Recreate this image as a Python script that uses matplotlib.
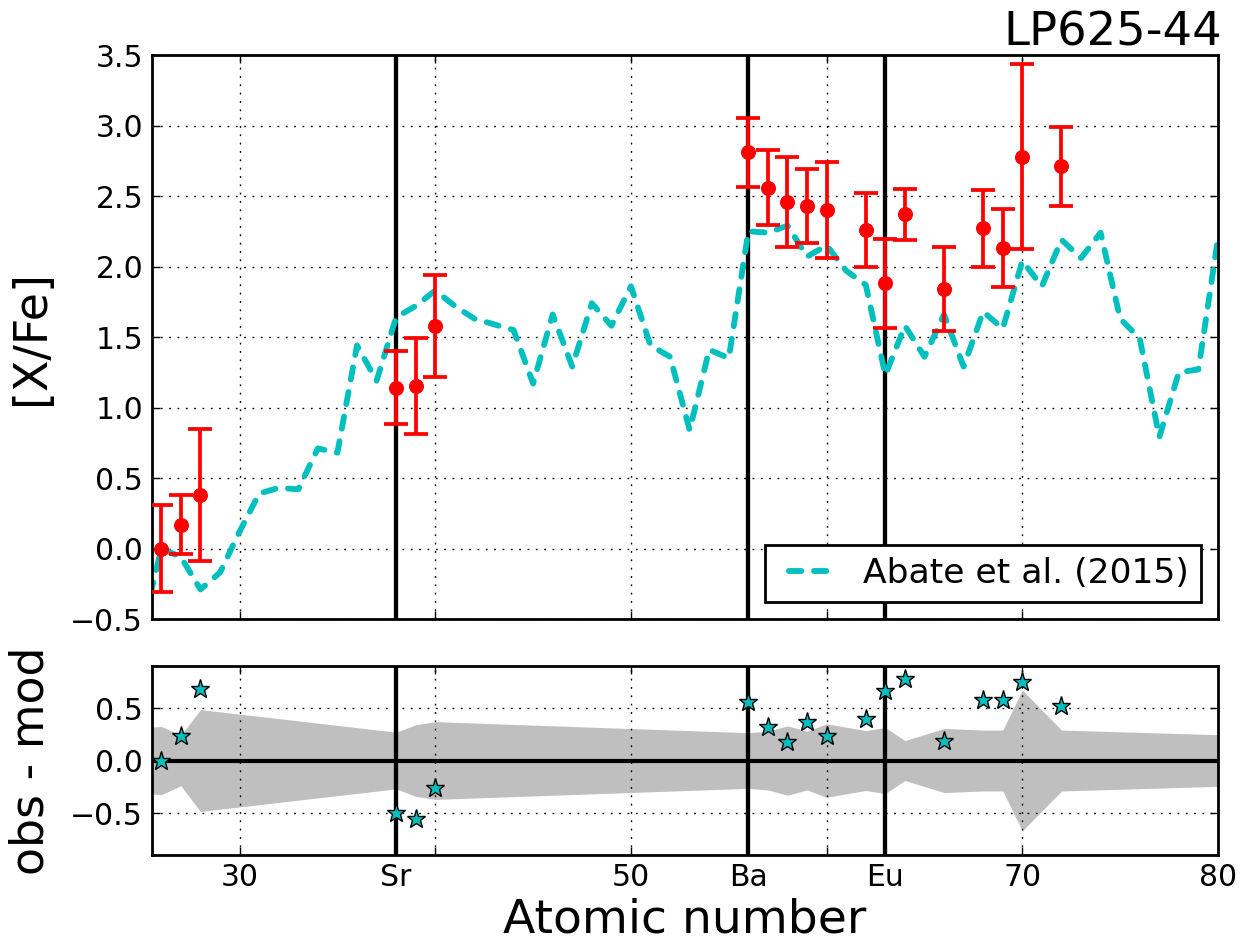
import numpy as np
import matplotlib
matplotlib.use("Agg")
import matplotlib.pyplot as plt

plt.rcParams['font.family'] = ['DejaVu Sans']
plt.rcParams['lines.scale_dashes'] = False

# observed abundances [X/Fe] of LP625-44
obs_z = [26, 27, 28, 38, 39, 40, 56, 57, 58, 59, 60, 62, 63, 64, 66, 68, 69, 70, 72]
obs_val = [0.00, 0.17, 0.38, 1.14, 1.15, 1.58, 2.81, 2.56, 2.46, 2.43, 2.40,
           2.26, 1.88, 2.37, 1.84, 2.27, 2.13, 2.78, 2.71]
obs_err = [0.31, 0.21, 0.47, 0.26, 0.34, 0.36, 0.245, 0.265, 0.32, 0.265, 0.34,
           0.265, 0.315, 0.18, 0.30, 0.27, 0.275, 0.655, 0.28]

# obs - mod residuals
res_val = [0.00, 0.23, 0.68, -0.50, -0.56, -0.26, 0.555, 0.32, 0.175, 0.37, 0.23,
           0.40, 0.665, 0.78, 0.185, 0.575, 0.58, 0.75, 0.515]

# grey band (uncertainty)
band_z = [25, 26, 27, 28, 38, 39, 40, 56, 57, 58, 59, 60, 62, 63, 64, 66, 68, 69, 70, 72, 82]
band_sig = [0.31, 0.325, 0.24, 0.485, 0.27, 0.34, 0.37, 0.265, 0.28, 0.33, 0.28, 0.35,
            0.285, 0.315, 0.19, 0.305, 0.29, 0.29, 0.67, 0.29, 0.235]

# model of Abate et al. (2015)
mod_z = list(range(25, 81))
mod_val = [-0.58, 0.00, -0.06, -0.29, -0.17, 0.12, 0.39, 0.43, 0.42, 0.71,
           0.68, 1.44, 1.19, 1.64, 1.72, 1.83, 1.72, 1.63, 1.59, 1.55,
           1.17, 1.66, 1.29, 1.74, 1.58, 1.86, 1.44, 1.36, 0.84, 1.41,
           1.35, 2.25, 2.24, 2.29, 2.07, 2.15, 1.97, 1.87, 1.23, 1.58,
           1.36, 1.66, 1.29, 1.68, 1.56, 2.04, 1.86, 2.19, 2.06, 2.24,
           1.63, 1.49, 0.79, 1.25, 1.27, 2.20]

xtick_pos = [30, 38, 40, 50, 56, 60, 63, 70, 80]
xtick_lab = ['30', 'Sr', '', '50', 'Ba', '', 'Eu', '70', '80']
vline_z = [38, 56, 63]

fig = plt.figure(figsize=(12.44, 9.49), dpi=100)
ax1 = fig.add_axes([0.1218, 0.3477, 0.8573, 0.5943])
ax2 = fig.add_axes([0.1218, 0.0990, 0.8573, 0.1992], sharex=ax1)

gridstyle = dict(color='k', linestyle=(0, (1.3, 4.7)), linewidth=1.0)

# top panel
for z in vline_z:
    ax1.axvline(z, color='k', lw=3.1, zorder=1.8)
ax1.plot(mod_z, mod_val, color='c', lw=4.2, linestyle=(9.4, (8.9, 9.1)),
         dash_capstyle='round', label='Abate et al. (2015)', zorder=2)
ax1.errorbar(obs_z, obs_val, yerr=obs_err, fmt='o', color='r', ms=9.8,
             elinewidth=2.7, capsize=8.5, capthick=2.7, zorder=3)
ax1.set_xlim(25.5, 80)
ax1.set_ylim(-0.5, 3.5)
ax1.set_yticks(np.arange(-0.5, 3.51, 0.5))
ax1.grid(True, **gridstyle)
ax1.set_ylabel('[X/Fe]', fontsize=33, labelpad=12)
ax1.text(1.004, 1.017, 'LP625-44', transform=ax1.transAxes, ha='right',
         va='baseline', fontsize=33.5)
leg = ax1.legend(loc='lower right', fontsize=24.8, fancybox=False, edgecolor='k',
                 framealpha=1, handlelength=1.75, handletextpad=0.75,
                 borderpad=0.35, borderaxespad=0.5)
leg.get_frame().set_linewidth(2)
plt.setp(ax1.get_xticklabels(), visible=False)

# bottom panel
ax2.fill_between(band_z, -np.array(band_sig), band_sig, color='#bfbfbf', lw=0, zorder=1)
for z in vline_z:
    ax2.axvline(z, color='k', lw=3.1, zorder=1.8)
ax2.axhline(0, color='k', lw=3, zorder=1.8)
ax2.plot(obs_z, res_val, '*', color='c', mec='k', mew=1, ms=14, zorder=3)
ax2.set_ylim(-0.9, 0.9)
ax2.set_yticks([-0.5, 0.0, 0.5])
ax2.set_xticks(xtick_pos)
ax2.set_xticklabels(xtick_lab)
ax2.grid(True, **gridstyle)
ax2.set_ylabel('obs - mod', fontsize=33, labelpad=12)
ax2.set_xlabel('Atomic number', fontsize=34)

for ax in (ax1, ax2):
    ax.tick_params(direction='in', top=True, right=True, length=6, width=1,
                   labelsize=21.5, pad=6)
    for s in ax.spines.values():
        s.set_linewidth(2)

fig.align_ylabels([ax1, ax2])
plt.savefig('out.png', dpi=100)
